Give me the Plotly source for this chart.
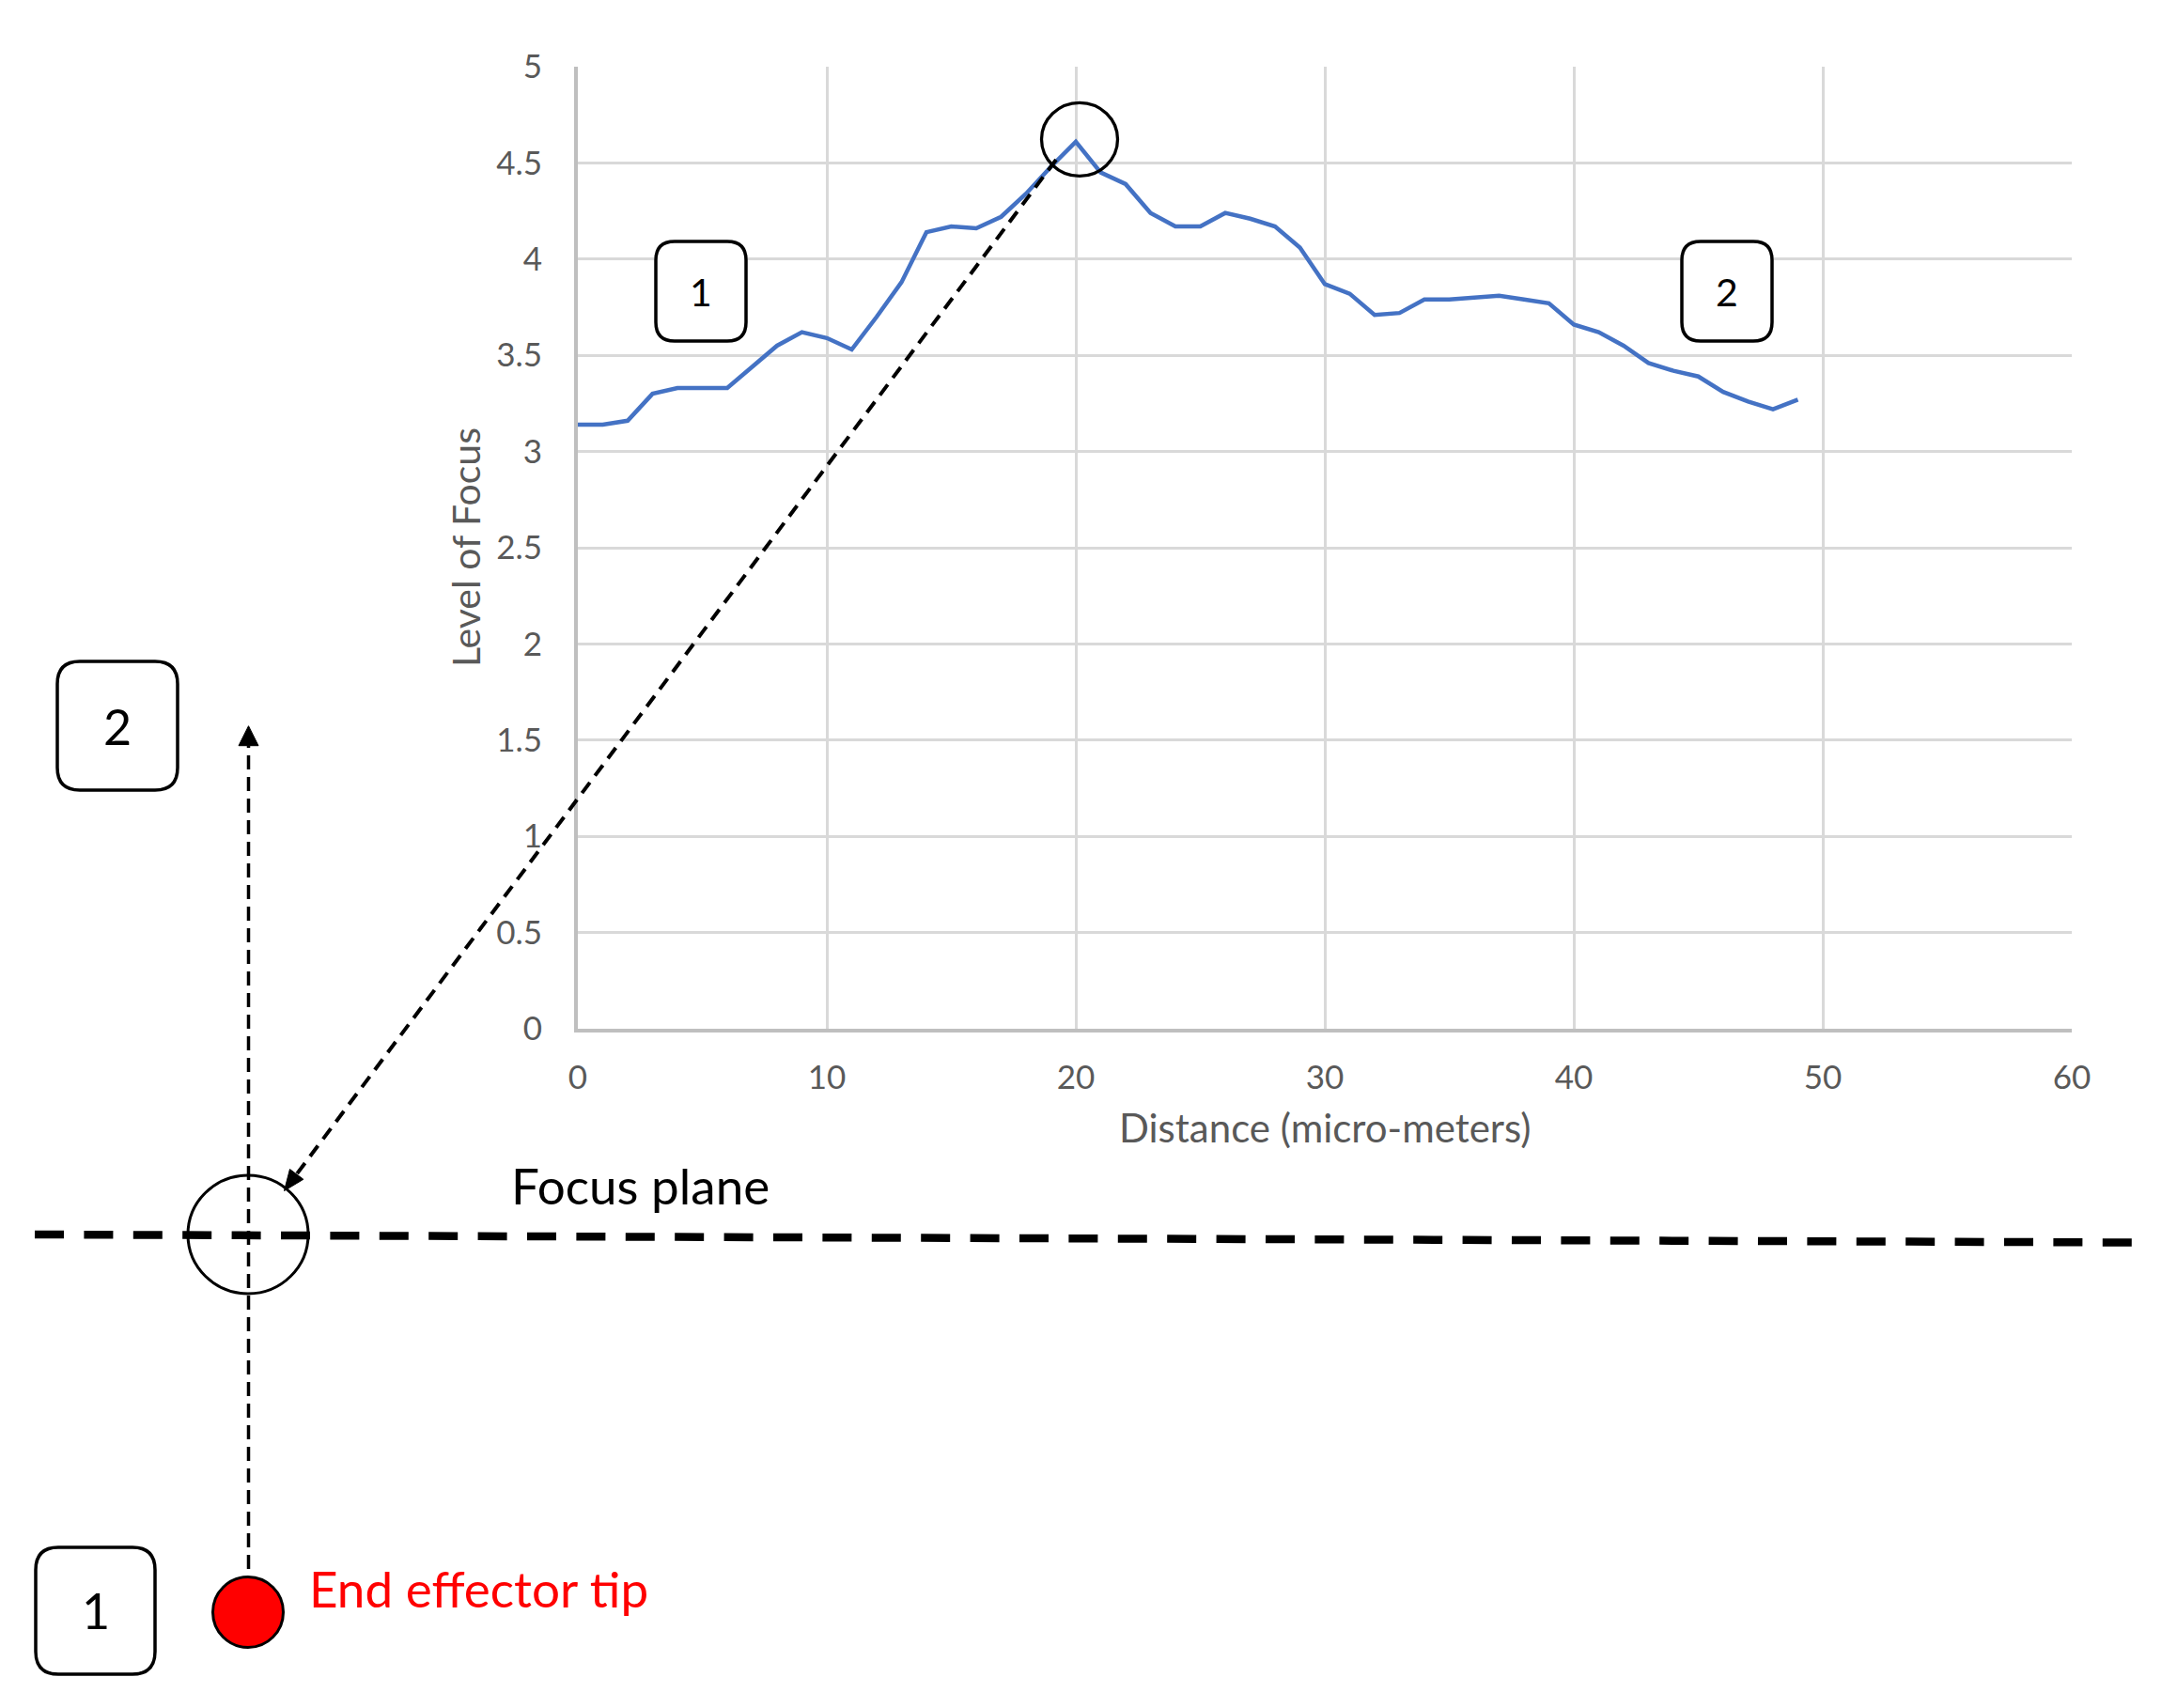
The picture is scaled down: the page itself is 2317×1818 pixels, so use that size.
import plotly.graph_objects as go

# focus measure along the scan
distance = list(range(50))
focus = [3.14, 3.14, 3.16, 3.30, 3.33, 3.33, 3.33, 3.44, 3.55, 3.62,
         3.59, 3.53, 3.70, 3.88, 4.14, 4.17, 4.16, 4.22, 4.34, 4.48,
         4.61, 4.45, 4.39, 4.24, 4.17, 4.17, 4.24, 4.21, 4.17, 4.06,
         3.87, 3.82, 3.71, 3.72, 3.79, 3.79, 3.80, 3.81, 3.79, 3.77,
         3.66, 3.62, 3.55, 3.46, 3.42, 3.39, 3.31, 3.26, 3.22, 3.27]
x_ticks = [0, 10, 20, 30, 40, 50, 60]
y_ticks = [0, 0.5, 1, 1.5, 2, 2.5, 3, 3.5, 4, 4.5, 5]
y_labels = ["0", "0.5", "1", "1.5", "2", "2.5", "3", "3.5", "4", "4.5", "5"]

W, H = 2317, 1818
PL, PR, PT, PB = 615, 2205, 71, 1095
FONT = "Lato, Arial, sans-serif"
GREY = "#595959"


def xp(x): return (x - PL) / (PR - PL)
def yp(y): return (PB - y) / (PB - PT)


def rbox(x0, y0, x1, y1, r):
    p = lambda x, y: f"{xp(x)},{yp(y)}"
    return (f"M {p(x0 + r, y0)} L {p(x1 - r, y0)} Q {p(x1, y0)} {p(x1, y0 + r)} "
            f"L {p(x1, y1 - r)} Q {p(x1, y1)} {p(x1 - r, y1)} L {p(x0 + r, y1)} "
            f"Q {p(x0, y1)} {p(x0, y1 - r)} L {p(x0, y0 + r)} Q {p(x0, y0)} {p(x0 + r, y0)} Z")


def arrow(tail, tip, length, half, width=3.5, dash="15px,8px"):
    dx, dy = tip[0] - tail[0], tip[1] - tail[1]
    n = (dx * dx + dy * dy) ** 0.5
    ux, uy = dx / n, dy / n
    bx, by = tip[0] - length * ux, tip[1] - length * uy
    head = f"M {xp(tip[0])},{yp(tip[1])} L {xp(bx + half * uy)},{yp(by - half * ux)} L {xp(bx - half * uy)},{yp(by + half * ux)} Z"
    line = dict(type="line", xref="paper", yref="paper", x0=xp(tail[0]), y0=yp(tail[1]), x1=xp(bx), y1=yp(by),
                line=dict(color="black", width=width, dash=dash))
    return [line, dict(type="path", xref="paper", yref="paper", path=head, fillcolor="black", line=dict(color="black", width=1))]


fig = go.Figure()
fig.add_trace(go.Scatter(x=distance, y=focus, mode="lines", line=dict(color="#4472C4", width=4.5), hoverinfo="x+y", showlegend=False))

peak = max(range(len(focus)), key=lambda i: focus[i])
shapes = []
# numbered boxes
for (x0, y0, x1, y1, r) in [(698, 257, 794, 363, 20), (1790, 257, 1886, 363, 20), (61, 704, 189, 841, 24), (38, 1647, 165, 1782, 24)]:
    shapes.append(dict(type="path", xref="paper", yref="paper", path=rbox(x0, y0, x1, y1, r), fillcolor="white", line=dict(color="black", width=3.5)))
# circle at the peak
shapes.append(dict(type="circle", xref="x", yref="y", xsizemode="pixel", ysizemode="pixel", xanchor=distance[peak], yanchor=focus[peak],
                   x0=-36.5, x1=44.5, y0=-36.5, y1=41.5, line=dict(color="black", width=3.3)))
# focus plane
shapes.append(dict(type="line", xref="paper", yref="paper", x0=xp(37), y0=yp(1314), x1=xp(2270), y1=yp(1322.5),
                   line=dict(color="black", width=8.5, dash="31px,21.4px")))
# arrows
shapes += arrow((1124, 170), (302.5, 1267.5), 22, 9, width=4, dash="14px,9px")
shapes += arrow((264.5, 1716), (264.5, 772.7), 21, 10.5)
# circle on the plane
shapes.append(dict(type="circle", xref="paper", yref="paper", x0=xp(200), x1=xp(328), y0=yp(1377), y1=yp(1251), line=dict(color="black", width=3)))
# end effector tip
shapes.append(dict(type="circle", xref="paper", yref="paper", x0=xp(226.5), x1=xp(301.5), y0=yp(1753.5), y1=yp(1678.5),
                   fillcolor="#FF0000", line=dict(color="black", width=3)))

annotations = [
    dict(text="Distance (micro-meters)", x=xp(1410), y=yp(1200), font=dict(size=42, color=GREY)),
    dict(text="Level of Focus", x=xp(495), y=yp(583), textangle=-90, font=dict(size=41, color=GREY)),
    dict(text="1", x=xp(746), y=yp(310), font=dict(size=41, color="black")),
    dict(text="2", x=xp(1838), y=yp(310), font=dict(size=41, color="black")),
    dict(text="2", x=xp(125), y=yp(773), font=dict(size=52, color="black")),
    dict(text="1", x=xp(101.5), y=yp(1714), font=dict(size=52, color="black")),
    dict(text="Focus plane", x=xp(542), y=yp(1261), xanchor="left", font=dict(size=53, color="black")),
    dict(text="End effector tip", x=xp(327), y=yp(1690), xanchor="left", font=dict(size=53, color="#FF0000")),
]
for a in annotations:
    a.update(xref="paper", yref="paper", showarrow=False)
    a.setdefault("xanchor", "center")
    a.setdefault("yanchor", "middle")

fig.update_layout(
    width=W, height=H, margin=dict(l=PL, r=W - PR, t=PT, b=H - PB),
    paper_bgcolor="white", plot_bgcolor="white", font=dict(family=FONT, color=GREY),
    shapes=shapes, annotations=annotations, showlegend=False,
    xaxis=dict(range=[0, 60], tickmode="array", tickvals=x_ticks, showgrid=True, gridcolor="#D9D9D9", gridwidth=2.7,
               showline=True, linecolor="#BFBFBF", linewidth=3.7, zeroline=False, ticks="", ticklabelstandoff=18,
               tickfont=dict(size=35, color=GREY), fixedrange=True),
    yaxis=dict(range=[0, 5], tickmode="array", tickvals=y_ticks, ticktext=y_labels, showgrid=True, gridcolor="#D9D9D9", gridwidth=2.7,
               showline=True, linecolor="#BFBFBF", linewidth=3.7, zeroline=False, ticks="", ticklabelstandoff=27,
               tickfont=dict(size=35, color=GREY), fixedrange=True),
)

fig.write_html("out.html", config={"displayModeBar": False},
               post_script="document.body.style.margin='0';document.body.style.overflow='hidden';")
